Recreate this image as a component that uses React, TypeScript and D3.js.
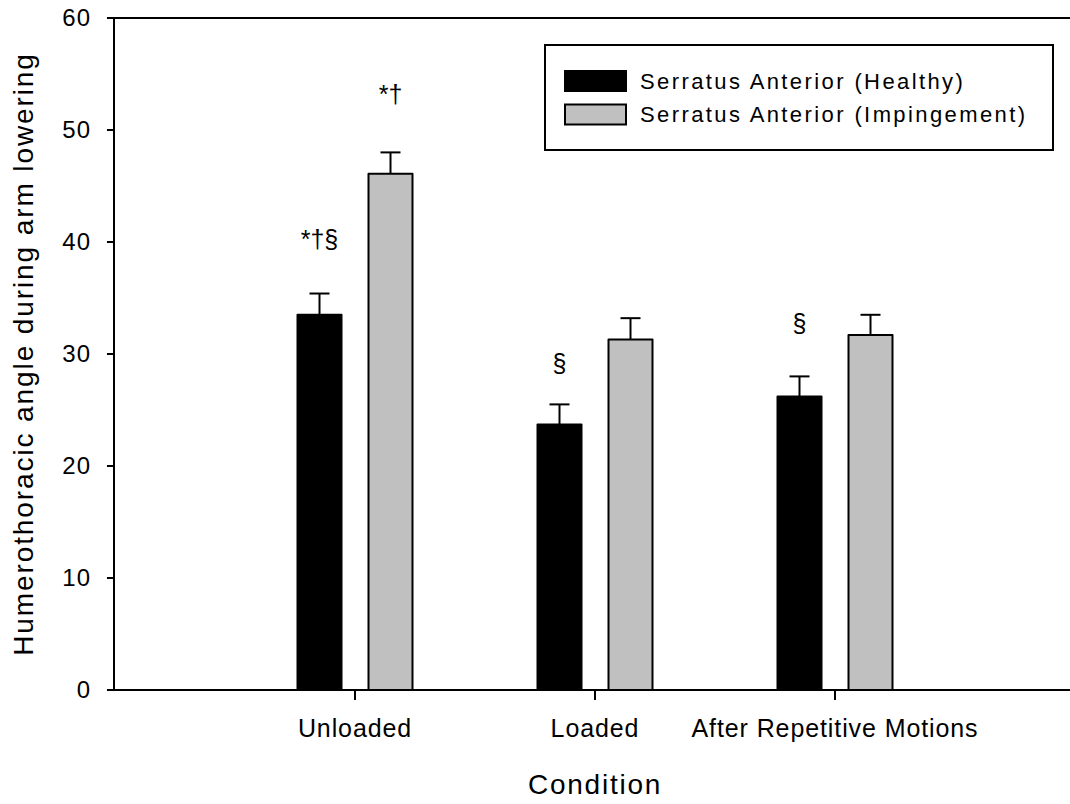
import React from 'react';
import * as d3 from 'd3';

// Group means and upper standard errors per condition
const conditions = ['Unloaded', 'Loaded', 'After Repetitive Motions'];
const seriesNames = ['Serratus Anterior (Healthy)', 'Serratus Anterior (Impingement)'];
const seriesFills = ['#000000', '#c0c0c0'];
const healthyMean = [33.5, 23.7, 26.2];
const healthyErr = [1.9, 1.8, 1.8];
const impingeMean = [46.1, 31.3, 31.7];
const impingeErr = [1.9, 1.9, 1.8];
const yTicks = [0, 10, 20, 30, 40, 50, 60];

// Significance markers: condition, series, symbol, baseline level (data units)
const markCondition = [0, 0, 1, 2];
const markSeries = [0, 1, 0, 0];
const markText = ['*†§', '*†', '§', '§'];
const markLevel = [39.5, 52.4, 28.4, 32.0];

const W = 1070;
const H = 804;
const FONT = "'Liberation Sans', Arial, sans-serif";

export default function App() {
  const means = [healthyMean, impingeMean];
  const errs = [healthyErr, impingeErr];

  const y = d3.scaleLinear().domain([0, 60]).range([690, 18]);
  const x = d3.scaleLinear().domain([0, conditions.length + 1]).range([115, 1075]);
  const xInner = d3
    .scaleBand<number>()
    .domain([0, 1])
    .range([-57.5, 57.5])
    .paddingInner(27 / 71)
    .paddingOuter(0);
  const bw = xInner.bandwidth();
  const capHalf = 10;

  const left = x(0) - 1;
  const right = x(conditions.length + 1);
  const top = y(60);
  const bottom = y(0);

  return (
    <svg
      width={W}
      height={H}
      style={{ position: 'absolute', left: 0, top: 0, background: '#fff', display: 'block' }}
      fontFamily={FONT}
    >
      <rect x={0} y={0} width={W} height={H} fill="#fff" />

      {/* bars */}
      {[0, 1].map((s) =>
        conditions.map((c, i) => {
          const bx = x(i + 1) + (xInner(s) as number);
          const v = means[s][i];
          return (
            <rect
              key={`b${s}-${i}`}
              x={bx}
              y={y(v)}
              width={bw}
              height={bottom - y(v)}
              fill={seriesFills[s]}
              stroke="#000"
              strokeWidth={2}
              strokeLinejoin="round"
            />
          );
        })
      )}

      {/* upper error bars */}
      {[0, 1].map((s) =>
        conditions.map((c, i) => {
          const cx = x(i + 1) + (xInner(s) as number) + bw / 2;
          const v = means[s][i];
          const e = errs[s][i];
          return (
            <g key={`e${s}-${i}`} stroke="#000" strokeWidth={2}>
              <line x1={cx} x2={cx} y1={y(v)} y2={y(v + e)} />
              <line x1={cx - capHalf} x2={cx + capHalf} y1={y(v + e)} y2={y(v + e)} />
            </g>
          );
        })
      )}

      {/* significance markers */}
      {markText.map((t, k) => (
        <text
          key={`m${k}`}
          x={x(markCondition[k] + 1) + (xInner(markSeries[k]) as number) + bw / 2}
          y={y(markLevel[k])}
          textAnchor="middle"
          fontSize={25}
          fill="#000"
        >
          {t}
        </text>
      ))}

      {/* frame */}
      <g stroke="#000" strokeWidth={2} fill="none">
        <line x1={left} x2={right} y1={top} y2={top} />
        <line x1={left} x2={right} y1={bottom} y2={bottom} />
        <line x1={left} x2={left} y1={top} y2={bottom} />
        <line x1={right} x2={right} y1={top} y2={bottom} />
      </g>

      {/* y axis ticks and labels */}
      {yTicks.map((t) => (
        <g key={`yt${t}`}>
          <line x1={left - 7} x2={left} y1={y(t)} y2={y(t)} stroke="#000" strokeWidth={2} />
          <text
            x={91}
            y={y(t)}
            dy="0.35em"
            textAnchor="end"
            fontSize={24}
            letterSpacing={1}
            fill="#000"
          >
            {t}
          </text>
        </g>
      ))}

      {/* x axis ticks and labels */}
      {conditions.map((c, i) => (
        <g key={`xt${i}`}>
          <line x1={x(i + 1)} x2={x(i + 1)} y1={bottom} y2={bottom + 10} stroke="#000" strokeWidth={2} />
          <text x={x(i + 1)} y={737} textAnchor="middle" fontSize={25} letterSpacing={0.9} fill="#000">
            {c}
          </text>
        </g>
      ))}

      {/* axis titles */}
      <text
        x={(x(0) + x(conditions.length + 1)) / 2}
        y={794}
        textAnchor="middle"
        fontSize={28}
        letterSpacing={1.75}
        fill="#000"
      >
        Condition
      </text>
      <text
        transform={`translate(33, ${(53 + 655) / 2}) rotate(-90)`}
        textAnchor="middle"
        fontSize={28}
        letterSpacing={1.9}
        fill="#000"
      >
        Humerothoracic angle during arm lowering
      </text>

      {/* legend */}
      <g>
        <rect x={545} y={45} width={508} height={105} fill="#fff" stroke="#000" strokeWidth={2} />
        {seriesNames.map((n, s) => {
          const sy = 71 + s * 33.5;
          return (
            <g key={`lg${s}`}>
              <rect
                x={565}
                y={sy}
                width={61}
                height={20}
                fill={seriesFills[s]}
                stroke="#000"
                strokeWidth={2}
              />
              <text x={640} y={sy + 10} dy="0.35em" fontSize={22} letterSpacing={2.4} fill="#000">
                {n}
              </text>
            </g>
          );
        })}
      </g>
    </svg>
  );
}
